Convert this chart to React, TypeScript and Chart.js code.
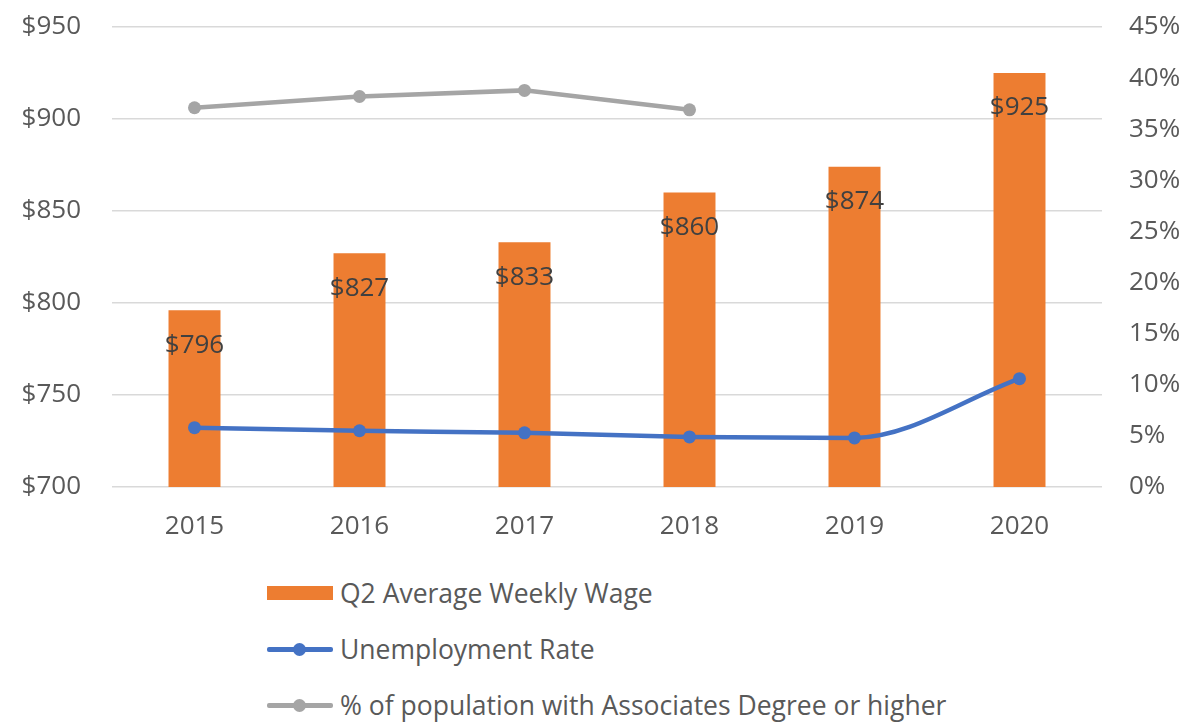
import React, { useEffect, useRef } from "react";
import { Chart, registerables } from "chart.js";

Chart.register(...registerables);

const years = ["2015", "2016", "2017", "2018", "2019", "2020"];
const wages = [796, 827, 833, 860, 874, 925];
const unemployment = [5.8, 5.5, 5.3, 4.9, 4.8, 10.6];
const associates: (number | null)[] = [37.1, 38.2, 38.8, 36.9, null, null];

const wageLabel = "Q2 Average Weekly Wage";
const unempLabel = "Unemployment Rate";
const assocLabel = "% of population with Associates Degree or higher";

const ORANGE = "#ED7D31";
const BLUE = "#4472C4";
const GREY = "#A5A5A5";
const TEXT = "#595959";
const FONT = "'Open Sans', 'DejaVu Sans', sans-serif";
const FS = 26;

const barLabelPlugin = {
  id: "barLabels",
  afterDatasetsDraw(chart: any) {
    const meta = chart.getDatasetMeta(2);
    const ctx = chart.ctx;
    ctx.save();
    ctx.font = `${FS}px ${FONT}`;
    ctx.fillStyle = "#404040";
    ctx.textAlign = "center";
    ctx.textBaseline = "middle";
    meta.data.forEach((bar: any, i: number) => {
      ctx.fillText("$" + wages[i], bar.x, bar.y + 35);
    });
    ctx.restore();
  },
};

function LegendItem({ kind, color, label }: { kind: "bar" | "line"; color: string; label: string }) {
  return (
    <div style={{ display: "flex", alignItems: "center", height: 56 }}>
      <div style={{ position: "relative", width: 66, height: 16, marginRight: 7 }}>
        {kind === "bar" ? (
          <div style={{ position: "absolute", left: 0, top: 1, width: 66, height: 14, background: color }} />
        ) : (
          <>
            <div style={{ position: "absolute", left: 0, top: 6, width: 66, height: 5, background: color, borderRadius: 2 }} />
            <div style={{ position: "absolute", left: 26, top: 2, width: 13, height: 13, background: color, borderRadius: "50%" }} />
          </>
        )}
      </div>
      <span style={{ fontFamily: FONT, fontSize: 26.5, color: TEXT, whiteSpace: "nowrap" }}>{label}</span>
    </div>
  );
}

export default function App() {
  const canvasRef = useRef<HTMLCanvasElement>(null);

  useEffect(() => {
    if (!canvasRef.current) return;
    const fitY = (w: number) => (s: any) => {
      s.width = w;
      s.paddingTop = 0;
      s.paddingBottom = 0;
    };
    const chart = new Chart(canvasRef.current, {
      type: "bar",
      data: {
        labels: years,
        datasets: [
          {
            type: "line",
            label: unempLabel,
            data: unemployment,
            yAxisID: "y1",
            borderColor: BLUE,
            backgroundColor: BLUE,
            borderWidth: 4.5,
            pointRadius: 6.5,
            pointBackgroundColor: BLUE,
            pointBorderWidth: 0,
            cubicInterpolationMode: "monotone",
            order: 0,
          } as any,
          {
            type: "line",
            label: assocLabel,
            data: associates,
            yAxisID: "y1",
            borderColor: GREY,
            backgroundColor: GREY,
            borderWidth: 4.5,
            pointRadius: 6.5,
            pointBackgroundColor: GREY,
            pointBorderWidth: 0,
            tension: 0,
            spanGaps: false,
            order: 1,
          } as any,
          {
            type: "bar",
            label: wageLabel,
            data: wages,
            yAxisID: "y",
            backgroundColor: ORANGE,
            barPercentage: 0.315,
            categoryPercentage: 1,
            order: 2,
          } as any,
        ],
      },
      options: {
        animation: false,
        responsive: false,
        maintainAspectRatio: false,
        layout: { padding: { top: 27, left: 0, right: 0, bottom: 0 } },
        plugins: { legend: { display: false }, tooltip: { enabled: false } },
        scales: {
          x: {
            grid: { display: false, drawTicks: false },
            border: { display: false },
            ticks: { color: TEXT, font: { family: FONT, size: FS }, padding: 24 },
            afterFit: (s: any) => { s.height = 73; },
          },
          y: {
            position: "left",
            min: 700,
            max: 950,
            grid: { color: "#D9D9D9", lineWidth: 1.5, drawTicks: false },
            border: { display: false },
            ticks: {
              stepSize: 50,
              color: TEXT,
              font: { family: FONT, size: FS },
              padding: 31,
              callback: (v: any) => "$" + v,
            },
            afterFit: fitY(112),
          },
          y1: {
            position: "right",
            min: 0,
            max: 45,
            grid: { display: false, drawTicks: false },
            border: { display: false },
            ticks: {
              stepSize: 5,
              color: TEXT,
              font: { family: FONT, size: FS },
              padding: 27,
              callback: (v: any) => v + "%",
            },
            afterFit: fitY(83),
          },
        },
      },
      plugins: [barLabelPlugin],
    });
    return () => chart.destroy();
  }, []);

  return (
    <div style={{ position: "absolute", left: 0, top: 0, width: 1185, height: 724, background: "#fff", overflow: "hidden" }}>
      <canvas ref={canvasRef} width={1185} height={560} style={{ position: "absolute", left: 0, top: 0, width: 1185, height: 560 }} />
      <div style={{ position: "absolute", left: 267, top: 565 }}>
        <LegendItem kind="bar" color={ORANGE} label={wageLabel} />
        <LegendItem kind="line" color={BLUE} label={unempLabel} />
        <LegendItem kind="line" color={GREY} label={assocLabel} />
      </div>
    </div>
  );
}
